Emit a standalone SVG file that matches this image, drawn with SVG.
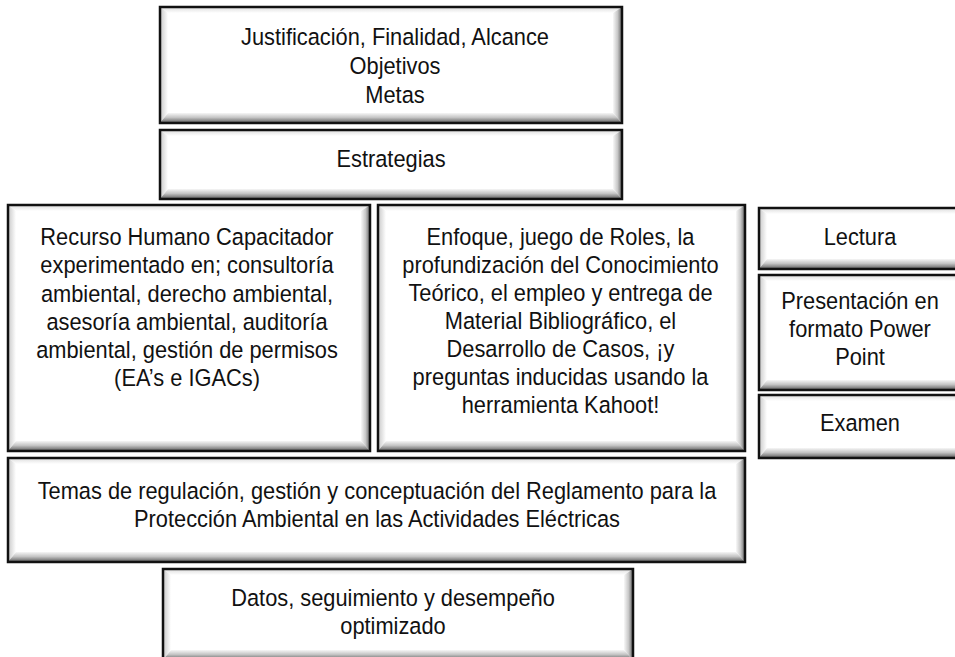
<svg xmlns="http://www.w3.org/2000/svg" width="955" height="657" viewBox="0 0 955 657">
<defs>
<linearGradient id="gB" x1="0" y1="0" x2="0" y2="1"><stop offset="0" stop-color="#f6f6f6"/><stop offset="0.45" stop-color="#c4c4c4"/><stop offset="1" stop-color="#5a5a5a"/></linearGradient>
<linearGradient id="gR" x1="0" y1="0" x2="1" y2="0"><stop offset="0" stop-color="#f8f8f8"/><stop offset="0.5" stop-color="#c8c8c8"/><stop offset="1" stop-color="#666666"/></linearGradient>
<linearGradient id="gL" x1="0" y1="0" x2="1" y2="0"><stop offset="0" stop-color="#c8c8c8"/><stop offset="1" stop-color="#ffffff"/></linearGradient>
<linearGradient id="gT" x1="0" y1="0" x2="0" y2="1"><stop offset="0" stop-color="#dcdcdc"/><stop offset="1" stop-color="#ffffff"/></linearGradient>
</defs>
<style>
.face{fill:#ffffff}
.bt{fill:url(#gT)}
.bl{fill:url(#gL)}
.br{fill:url(#gR)}
.bb{fill:url(#gB)}
.edge{fill:none;stroke:#111111;stroke-width:2.5}
.t{font-family:"Liberation Sans",Arial,sans-serif;font-size:24.5px;fill:#111111;text-anchor:middle}
</style>
<rect x="0" y="0" width="955" height="657" fill="#ffffff"/>
<g id="connectors"/>

<g id="n-justificacion">
<rect class="face" x="160" y="7" width="462" height="116"/>
<polygon class="bt" points="160,7 622,7 613,13 168,13"/>
<polygon class="bl" points="160,7 168,13 168,113 160,123"/>
<polygon class="br" points="622,7 622,123 613,113 613,13"/>
<polygon class="bb" points="160,123 622,123 613,113 168,113"/>
<rect class="edge" x="160" y="7" width="462" height="116"/>
<text class="t" transform="translate(395 0) scale(0.89 1)"><tspan x="0" y="45">Justificación, Finalidad, Alcance</tspan><tspan x="0" y="74">Objetivos</tspan><tspan x="0" y="103">Metas</tspan></text>
</g>

<g id="n-estrategias">
<rect class="face" x="160" y="130" width="462" height="69"/>
<polygon class="bt" points="160,130 622,130 613,136 168,136"/>
<polygon class="bl" points="160,130 168,136 168,189 160,199"/>
<polygon class="br" points="622,130 622,199 613,189 613,136"/>
<polygon class="bb" points="160,199 622,199 613,189 168,189"/>
<rect class="edge" x="160" y="130" width="462" height="69"/>
<text class="t" transform="translate(391 0) scale(0.89 1)"><tspan x="0" y="167">Estrategias</tspan></text>
</g>

<g id="n-recurso">
<rect class="face" x="8" y="205" width="362" height="246"/>
<polygon class="bt" points="8,205 370,205 361,211 16,211"/>
<polygon class="bl" points="8,205 16,211 16,441 8,451"/>
<polygon class="br" points="370,205 370,451 361,441 361,211"/>
<polygon class="bb" points="8,451 370,451 361,441 16,441"/>
<rect class="edge" x="8" y="205" width="362" height="246"/>
<text class="t" transform="translate(187 0) scale(0.89 1)"><tspan x="0" y="245">Recurso Humano Capacitador</tspan><tspan x="0" y="273.3">experimentado en; consultoría</tspan><tspan x="0" y="301.6">ambiental, derecho ambiental,</tspan><tspan x="0" y="329.9">asesoría ambiental, auditoría</tspan><tspan x="0" y="358.2">ambiental, gestión de permisos</tspan><tspan x="0" y="386.5">(EA’s e IGACs)</tspan></text>
</g>

<g id="n-enfoque">
<rect class="face" x="378" y="205" width="367" height="246"/>
<polygon class="bt" points="378,205 745,205 736,211 386,211"/>
<polygon class="bl" points="378,205 386,211 386,441 378,451"/>
<polygon class="br" points="745,205 745,451 736,441 736,211"/>
<polygon class="bb" points="378,451 745,451 736,441 386,441"/>
<rect class="edge" x="378" y="205" width="367" height="246"/>
<text class="t" transform="translate(560.5 0) scale(0.89 1)"><tspan x="0" y="245">Enfoque, juego de Roles, la</tspan><tspan x="0" y="273">profundización del Conocimiento</tspan><tspan x="0" y="301">Teórico, el empleo y entrega de</tspan><tspan x="0" y="329">Material Bibliográfico, el</tspan><tspan x="0" y="357">Desarrollo de Casos, ¡y</tspan><tspan x="0" y="385">preguntas inducidas usando la</tspan><tspan x="0" y="413">herramienta Kahoot!</tspan></text>
</g>

<g id="n-lectura">
<rect class="face" x="759" y="208" width="207" height="61"/>
<polygon class="bt" points="759,208 966,208 957,214 767,214"/>
<polygon class="bl" points="759,208 767,214 767,259 759,269"/>
<polygon class="br" points="966,208 966,269 957,259 957,214"/>
<polygon class="bb" points="759,269 966,269 957,259 767,259"/>
<rect class="edge" x="759" y="208" width="207" height="61"/>
<text class="t" transform="translate(860 0) scale(0.89 1)"><tspan x="0" y="245">Lectura</tspan></text>
</g>

<g id="n-presentacion">
<rect class="face" x="759" y="275" width="207" height="115"/>
<polygon class="bt" points="759,275 966,275 957,281 767,281"/>
<polygon class="bl" points="759,275 767,281 767,380 759,390"/>
<polygon class="br" points="966,275 966,390 957,380 957,281"/>
<polygon class="bb" points="759,390 966,390 957,380 767,380"/>
<rect class="edge" x="759" y="275" width="207" height="115"/>
<text class="t" transform="translate(860 0) scale(0.89 1)"><tspan x="0" y="309">Presentación en</tspan><tspan x="0" y="337">formato Power</tspan><tspan x="0" y="365">Point</tspan></text>
</g>

<g id="n-examen">
<rect class="face" x="759" y="395" width="207" height="63"/>
<polygon class="bt" points="759,395 966,395 957,401 767,401"/>
<polygon class="bl" points="759,395 767,401 767,448 759,458"/>
<polygon class="br" points="966,395 966,458 957,448 957,401"/>
<polygon class="bb" points="759,458 966,458 957,448 767,448"/>
<rect class="edge" x="759" y="395" width="207" height="63"/>
<text class="t" transform="translate(860 0) scale(0.89 1)"><tspan x="0" y="431">Examen</tspan></text>
</g>

<g id="n-temas">
<rect class="face" x="8" y="458" width="737" height="104"/>
<polygon class="bt" points="8,458 745,458 736,464 16,464"/>
<polygon class="bl" points="8,458 16,464 16,552 8,562"/>
<polygon class="br" points="745,458 745,562 736,552 736,464"/>
<polygon class="bb" points="8,562 745,562 736,552 16,552"/>
<rect class="edge" x="8" y="458" width="737" height="104"/>
<text class="t" transform="translate(377 0) scale(0.89 1)"><tspan x="0" y="499">Temas de regulación, gestión y conceptuación del Reglamento para la</tspan><tspan x="0" y="527.5">Protección Ambiental en las Actividades Eléctricas</tspan></text>
</g>

<g id="n-datos">
<rect class="face" x="163" y="569" width="470" height="91"/>
<polygon class="bt" points="163,569 633,569 624,575 171,575"/>
<polygon class="bl" points="163,569 171,575 171,650 163,660"/>
<polygon class="br" points="633,569 633,660 624,650 624,575"/>
<polygon class="bb" points="163,660 633,660 624,650 171,650"/>
<rect class="edge" x="163" y="569" width="470" height="91"/>
<text class="t" transform="translate(393 0) scale(0.89 1)"><tspan x="0" y="606">Datos, seguimiento y desempeño</tspan><tspan x="0" y="634.5">optimizado</tspan></text>
</g>
</svg>
